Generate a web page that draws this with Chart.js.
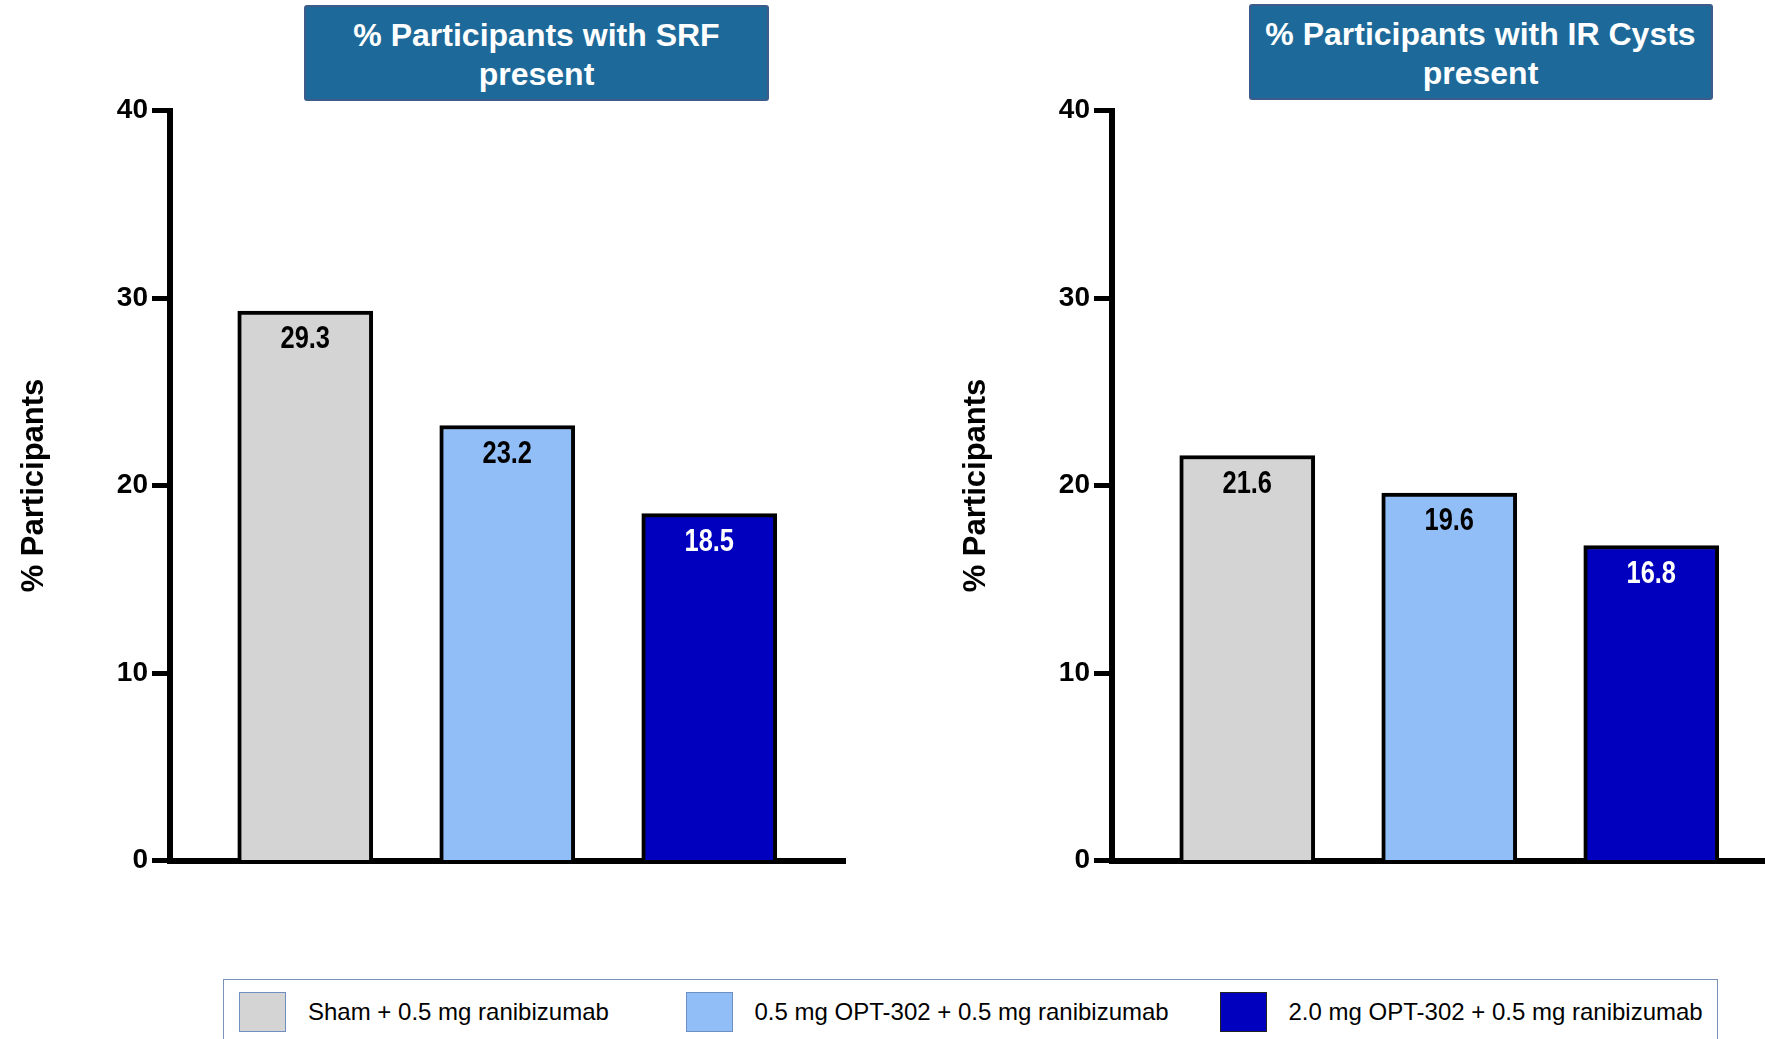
<!DOCTYPE html>
<html>
<head>
<meta charset="utf-8">
<script src="https://cdn.jsdelivr.net/npm/chart.js@4.4.1/dist/chart.umd.min.js"></script>
<style>
  html, body {
    margin: 0; padding: 0; background: #ffffff;
    width: 1765px; height: 1039px; overflow: hidden; position: relative;
    font-family: "Liberation Sans", Arial, sans-serif;
  }
  canvas { position: absolute; top: 0; }
  .panel-title {
    position: absolute; box-sizing: border-box;
    background: #1D6A9A; border: 2.5px solid #3D5B8B; border-radius: 3px;
    color: #ffffff; font-weight: bold; font-size: 32px; line-height: 39px;
    padding-top: 3px;
    text-align: center; display: flex; flex-direction: column;
    align-items: center; justify-content: center;
  }
  .legend {
    position: absolute; left: 223px; top: 979px; width: 1495px; height: 90px;
    box-sizing: border-box; border: 1.5px solid #7A92BA;
  }
  .legend-item {
    position: absolute; top: 11.5px; display: flex; align-items: center;
    font-size: 24px; color: #000000; white-space: nowrap;
  }
  .swatch {
    width: 47px; height: 40px; box-sizing: border-box;
    border: 1.5px solid #6F8FC0; margin-right: 22px;
  }
</style>
</head>
<body>
<canvas id="srfChart" width="880" height="900" style="left:0px"></canvas>
<canvas id="cystChart" width="880" height="900" style="left:942px"></canvas>
<div id="titleSrf" class="panel-title" style="left:304px; top:5px; width:465px; height:96px;"></div>
<div id="titleCyst" class="panel-title" style="left:1248.5px; top:4px; width:464px; height:96px;"></div>
<div id="legend" class="legend"></div>

<script>
// Treatment groups (one bar per group in each panel)
const groupNames = [
  'Sham + 0.5 mg ranibizumab',
  '0.5 mg OPT-302 + 0.5 mg ranibizumab',
  '2.0 mg OPT-302 + 0.5 mg ranibizumab'
];
const groupColors = ['#D4D4D4', '#92BEF7', '#0000BE'];
const swatchBorders = ['#6F8FC0', '#6F8FC0', '#222222'];
const valueTextColors = ['#000000', '#000000', '#FFFFFF'];

// % participants with subretinal fluid present
const srfPercent = [29.3, 23.2, 18.5];
// % participants with intraretinal cysts present
const cystPercent = [21.6, 19.6, 16.8];

// y-axis ticks
const yTickValues = [0, 10, 20, 30, 40];
const yAxisTitle = '% Participants';

const srfTitleLines = ['% Participants with SRF', 'present'];
const cystTitleLines = ['% Participants with IR Cysts', 'present'];

// horizontal offsets of legend entries inside the legend frame
const legendItemLeft = [15, 461.5, 995.5];

const FONT = '"Liberation Sans", Arial, sans-serif';

// prints each bar's value just inside its top edge, in a narrow bold face
const valueLabels = {
  id: 'valueLabels',
  afterDatasetsDraw(chart) {
    const ctx = chart.ctx;
    const meta = chart.getDatasetMeta(0);
    const ds = chart.data.datasets[0];
    const squeeze = 0.82;
    meta.data.forEach((bar, i) => {
      ctx.save();
      ctx.font = 'bold 31px ' + FONT;
      ctx.textAlign = 'center';
      ctx.textBaseline = 'alphabetic';
      ctx.fillStyle = valueTextColors[i];
      ctx.translate(bar.x, bar.y + 37);
      ctx.scale(squeeze, 1);
      ctx.fillText(ds.data[i].y.toFixed(1), 0, 0);
      ctx.restore();
    });
  }
};

function makeChart(canvasId, values) {
  return new Chart(document.getElementById(canvasId), {
    type: 'bar',
    data: {
      datasets: [{
        label: yAxisTitle,
        data: values.map((v, i) => ({ x: i, y: v })),
        backgroundColor: groupColors,
        borderColor: '#000000',
        borderWidth: 4,
        borderSkipped: 'start',
        barThickness: 135,
        grouped: false
      }]
    },
    options: {
      responsive: false,
      animation: false,
      devicePixelRatio: 1,
      layout: { padding: { left: 0, top: 110.5, right: 35, bottom: 39.5 } },
      plugins: {
        legend: { display: false },
        tooltip: { enabled: false },
        title: { display: false }
      },
      scales: {
        x: {
          type: 'linear',
          offset: false,
          min: -0.672,
          max: 2.672,
          grid: { display: true, offset: false, drawOnChartArea: false, drawTicks: false },
          border: { display: true, color: '#000000', width: 6 },
          ticks: { display: false },
          afterFit(scale) { scale.height = 0; }
        },
        y: {
          min: 0,
          max: 40,
          afterBuildTicks(scale) { scale.ticks = yTickValues.map(v => ({ value: v })); },
          grid: {
            drawOnChartArea: false, drawTicks: true,
            tickLength: 17.5, tickWidth: 5, tickColor: '#000000'
          },
          border: { display: true, color: '#000000', width: 6 },
          ticks: {
            color: '#000000', padding: 4,
            font: { family: FONT, weight: 'bold', size: 28 }
          },
          title: {
            display: true, text: yAxisTitle, color: '#000000',
            font: { family: FONT, weight: 'bold', size: 31 },
            padding: { top: 15.4, bottom: 0 }
          },
          afterFit(scale) { scale.width = 169.5; }
        }
      }
    },
    plugins: [valueLabels]
  });
}

function fillTitle(id, lines) {
  const el = document.getElementById(id);
  lines.forEach(t => {
    const d = document.createElement('div');
    d.textContent = t;
    el.appendChild(d);
  });
}

function buildLegend() {
  const box = document.getElementById('legend');
  groupNames.forEach((name, i) => {
    const item = document.createElement('div');
    item.className = 'legend-item';
    item.style.left = legendItemLeft[i] + 'px';
    const sw = document.createElement('div');
    sw.className = 'swatch';
    sw.style.background = groupColors[i];
    sw.style.borderColor = swatchBorders[i];
    const label = document.createElement('span');
    label.textContent = name;
    item.appendChild(sw);
    item.appendChild(label);
    box.appendChild(item);
  });
}

fillTitle('titleSrf', srfTitleLines);
fillTitle('titleCyst', cystTitleLines);
buildLegend();
makeChart('srfChart', srfPercent);
makeChart('cystChart', cystPercent);
</script>
</body>
</html>
